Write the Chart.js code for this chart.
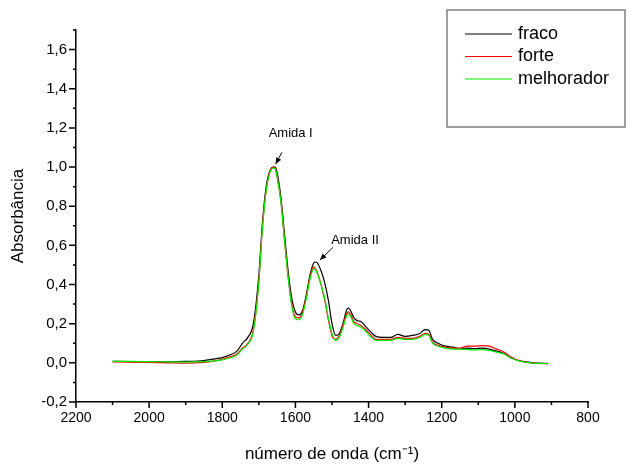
<!DOCTYPE html>
<html>
<head>
<meta charset="utf-8">
<script src="https://cdn.jsdelivr.net/npm/chart.js@4.4.1/dist/chart.umd.min.js"></script>
<style>
  body { margin: 0; background: #fff; }
  #wrap { width: 630px; height: 465px; }
</style>
</head>
<body>
<div id="wrap"><canvas id="ftir" width="630" height="465"></canvas></div>
<script>
// wavenumbers (cm-1)
const wavenumbers = [2100, 2050, 2000, 1950, 1900, 1850, 1820, 1800, 1780, 1760, 1745, 1730, 1715, 1700, 1690, 1680, 1670, 1660, 1655, 1650, 1640, 1630, 1620, 1610, 1600, 1590, 1580, 1570, 1560, 1550, 1545, 1540, 1530, 1520, 1510, 1500, 1490, 1480, 1470, 1460, 1455, 1450, 1440, 1430, 1420, 1410, 1400, 1390, 1380, 1360, 1340, 1320, 1300, 1280, 1260, 1245, 1235, 1225, 1210, 1190, 1170, 1150, 1130, 1110, 1090, 1070, 1050, 1030, 1010, 990, 970, 950, 930, 910];

const fraco = [0.008, 0.006, 0.005, 0.005, 0.007, 0.012, 0.02, 0.027, 0.04, 0.06, 0.10, 0.13, 0.2, 0.45, 0.72, 0.9, 0.98, 1.0, 1.0, 0.97, 0.85, 0.66, 0.47, 0.33, 0.26, 0.245, 0.27, 0.35, 0.45, 0.51, 0.515, 0.51, 0.47, 0.41, 0.32, 0.2, 0.14, 0.15, 0.2, 0.27, 0.28, 0.27, 0.23, 0.215, 0.21, 0.19, 0.17, 0.15, 0.135, 0.13, 0.13, 0.145, 0.135, 0.14, 0.15, 0.17, 0.165, 0.12, 0.1, 0.085, 0.08, 0.072, 0.075, 0.072, 0.075, 0.07, 0.06, 0.048, 0.025, 0.012, 0.005, 0.0, -0.002, -0.003];

const forte = [0.005, 0.004, 0.002, 0.0, -0.002, 0.002, 0.01, 0.018, 0.03, 0.045, 0.075, 0.10, 0.17, 0.42, 0.7, 0.88, 0.975, 1.0, 0.99, 0.95, 0.83, 0.63, 0.44, 0.3, 0.235, 0.23, 0.26, 0.34, 0.44, 0.49, 0.48, 0.46, 0.4, 0.32, 0.22, 0.14, 0.12, 0.14, 0.19, 0.25, 0.26, 0.25, 0.21, 0.2, 0.19, 0.175, 0.155, 0.135, 0.12, 0.12, 0.12, 0.13, 0.125, 0.125, 0.135, 0.15, 0.145, 0.105, 0.09, 0.08, 0.075, 0.075, 0.085, 0.085, 0.088, 0.085, 0.07, 0.055, 0.03, 0.012, 0.003, -0.002, -0.003, -0.005];

const melhorador = [0.008, 0.007, 0.006, 0.005, 0.004, 0.006, 0.01, 0.015, 0.025, 0.04, 0.07, 0.095, 0.16, 0.41, 0.69, 0.88, 0.97, 0.995, 0.99, 0.95, 0.83, 0.63, 0.44, 0.29, 0.225, 0.22, 0.25, 0.33, 0.43, 0.48, 0.475, 0.455, 0.4, 0.33, 0.23, 0.15, 0.115, 0.13, 0.18, 0.24, 0.25, 0.24, 0.2, 0.19, 0.18, 0.165, 0.145, 0.125, 0.115, 0.115, 0.115, 0.125, 0.12, 0.12, 0.13, 0.145, 0.14, 0.1, 0.085, 0.075, 0.07, 0.07, 0.068, 0.066, 0.068, 0.064, 0.055, 0.045, 0.025, 0.01, 0.003, -0.002, -0.003, -0.004];

const seriesNames = ["fraco", "forte", "melhorador"];
const seriesColors = ["#000000", "#ff0000", "#00ee00"];
const xTicks = [2200, 2000, 1800, 1600, 1400, 1200, 1000, 800];
const yTicks = [-0.2, 0.0, 0.2, 0.4, 0.6, 0.8, 1.0, 1.2, 1.4, 1.6];

const FONT = "Liberation Sans, Arial, sans-serif";

function toPoints(values) {
  return wavenumbers.map((w, i) => ({ x: w, y: values[i] }));
}

// minor/major ticks, legend box and peak labels
const decorPlugin = {
  id: "decor",
  afterDraw(chart) {
    const ctx = chart.ctx;
    const xs = chart.scales.x;
    const ys = chart.scales.y;
    const area = chart.chartArea;
    ctx.save();
    ctx.strokeStyle = "#000";
    ctx.lineWidth = 1.5;
    ctx.beginPath();
    for (let v = 800; v <= 2200; v += 100) {
      const px = xs.getPixelForValue(v);
      const len = v % 200 === 0 ? 6 : 3;
      ctx.moveTo(px, area.bottom);
      ctx.lineTo(px, area.bottom + len);
    }
    for (let k = -2; k <= 17; k++) {
      const py = ys.getPixelForValue(k / 10);
      const len = k % 2 === 0 ? 7 : 3;
      ctx.moveTo(area.left, py);
      ctx.lineTo(area.left - len, py);
    }
    ctx.stroke();

    // legend box
    ctx.strokeStyle = "#808080";
    ctx.lineWidth = 1.5;
    ctx.strokeRect(447, 10, 178, 117);
    ctx.font = "18px " + FONT;
    ctx.textBaseline = "middle";
    ctx.textAlign = "left";
    seriesNames.forEach((name, i) => {
      const y = 34 + i * 22.5;
      ctx.strokeStyle = seriesColors[i];
      ctx.lineWidth = 1;
      ctx.beginPath();
      ctx.moveTo(465, y);
      ctx.lineTo(512, y);
      ctx.stroke();
      ctx.fillStyle = "#000";
      ctx.fillText(name, 518, y);
    });

    // peak labels with arrows
    const notes = [
      { text: "Amida I", tx: 1613, ty: 1.17, ax: 1637, ay: 1.075, bx: 1654, by: 1.015 },
      { text: "Amida II", tx: 1437, ty: 0.625, ax: 1497, ay: 0.59, bx: 1533, by: 0.525 }
    ];
    ctx.font = "13px " + FONT;
    ctx.textAlign = "center";
    notes.forEach(n => {
      ctx.fillStyle = "#000";
      ctx.fillText(n.text, xs.getPixelForValue(n.tx), ys.getPixelForValue(n.ty));
      const x1 = xs.getPixelForValue(n.ax), y1 = ys.getPixelForValue(n.ay);
      const x2 = xs.getPixelForValue(n.bx), y2 = ys.getPixelForValue(n.by);
      ctx.strokeStyle = "#000";
      ctx.lineWidth = 1;
      ctx.beginPath();
      ctx.moveTo(x1, y1);
      ctx.lineTo(x2, y2);
      ctx.stroke();
      const ang = Math.atan2(y2 - y1, x2 - x1);
      ctx.beginPath();
      ctx.moveTo(x2, y2);
      ctx.lineTo(x2 - 7 * Math.cos(ang - 0.4), y2 - 7 * Math.sin(ang - 0.4));
      ctx.lineTo(x2 - 7 * Math.cos(ang + 0.4), y2 - 7 * Math.sin(ang + 0.4));
      ctx.closePath();
      ctx.fill();
    });
    ctx.restore();
  }
};

const ctx = document.getElementById("ftir").getContext("2d");
new Chart(ctx, {
  type: "line",
  data: {
    datasets: [
      { label: seriesNames[0], data: toPoints(fraco), borderColor: seriesColors[0], order: 2 },
      { label: seriesNames[1], data: toPoints(forte), borderColor: seriesColors[1], order: 1 },
      { label: seriesNames[2], data: toPoints(melhorador), borderColor: seriesColors[2], order: 0 }
    ]
  },
  options: {
    responsive: false,
    animation: false,
    elements: {
      point: { radius: 0 },
      line: { borderWidth: 1.2, cubicInterpolationMode: "monotone" }
    },
    layout: { padding: { left: 0, top: 30, right: 42, bottom: 0 } },
    plugins: { legend: { display: false }, tooltip: { enabled: false } },
    scales: {
      x: {
        type: "linear",
        reverse: true,
        min: 800,
        max: 2200,
        afterBuildTicks(scale) { scale.ticks = xTicks.map(v => ({ value: v })); },
        afterFit(scale) { scale.height = 63; },
        grid: { display: false, drawTicks: false },
        border: { display: true, color: "#000", width: 1.5 },
        ticks: {
          color: "#000",
          padding: 8,
          font: { family: FONT, size: 14 },
          maxRotation: 0,
          autoSkip: false,
          callback: v => String(v)
        },
        title: { display: true, text: "número de onda (cm⁻¹)", color: "#000", font: { family: FONT, size: 17 }, padding: { top: 0, bottom: 0 } }
      },
      y: {
        type: "linear",
        min: -0.2,
        max: 1.7,
        afterBuildTicks(scale) { scale.ticks = yTicks.map(v => ({ value: v })); },
        afterFit(scale) { scale.width = 76; },
        grid: { display: false, drawTicks: false },
        border: { display: true, color: "#000", width: 1.5 },
        ticks: {
          color: "#000",
          padding: 9,
          font: { family: FONT, size: 15 },
          autoSkip: false,
          callback: v => v.toFixed(1).replace(".", ",")
        },
        title: { display: true, text: "Absorbância", color: "#000", font: { family: FONT, size: 17 }, padding: { top: 8, bottom: 0 } }
      }
    }
  },
  plugins: [decorPlugin]
});
</script>
</body>
</html>
